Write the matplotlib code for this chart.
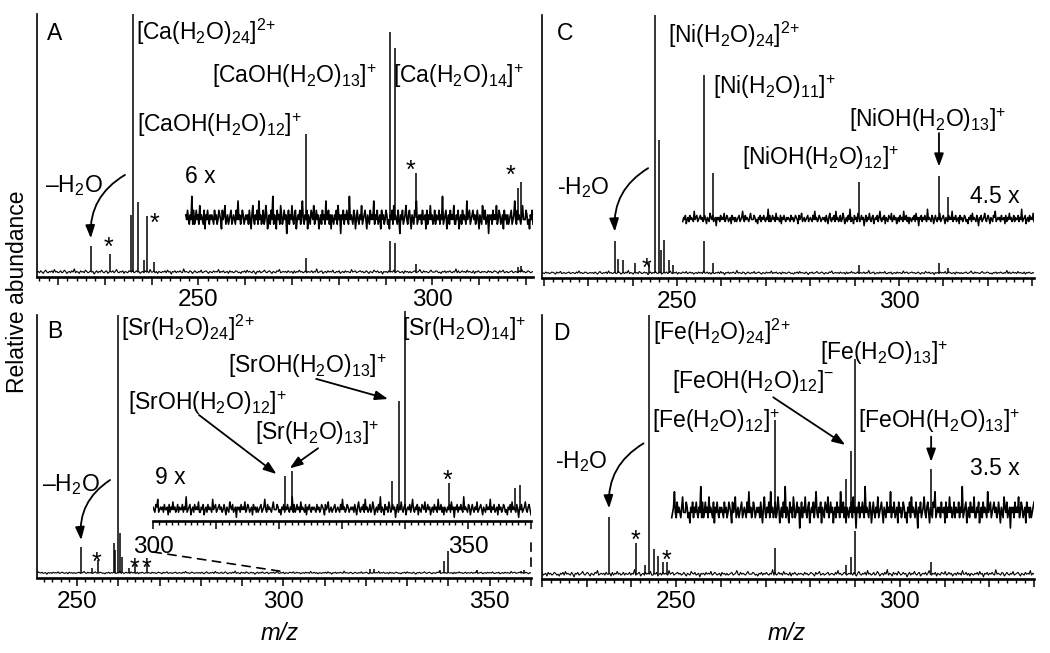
import numpy as np
import matplotlib.pyplot as plt
from matplotlib.patches import ConnectionPatch
from matplotlib.ticker import MultipleLocator, FuncFormatter

plt.rcParams['font.family'] = ['Liberation Sans', 'DejaVu Sans']
plt.rcParams['mathtext.fontset'] = 'custom'
plt.rcParams['mathtext.rm'] = 'Liberation Sans'
plt.rcParams['mathtext.it'] = 'Liberation Sans:italic'
plt.rcParams['mathtext.bf'] = 'Liberation Sans:bold'

# Peak lists: m/z and relative abundance (tallest peak = 100)
ca_mz = [227, 231, 235.6, 236, 237, 238.3, 239, 240.5, 273, 291, 292, 296.5, 318.4, 318.9]
ca_ab = [9.9, 7.0, 22, 100, 27, 4.5, 21.5, 3.9, 5.4, 12, 11, 2.9, 1.9, 2.3]

sr_mz = [251, 253.6, 255, 258.9, 259.3, 260, 260.4, 261, 262.5, 264, 267,
         321, 322, 338, 339, 340, 347, 357.5, 358.3]
sr_ab = [10, 2, 5, 11.6, 9, 100, 15.5, 6, 2, 3.5, 3.5,
         1.4, 1.6, 1.2, 4.65, 8.5, 1.1, 0.9, 1.0]

ni_mz = [236, 236.8, 237.8, 240.5, 243.8, 245, 246, 246.4, 247.1, 248.3, 249,
         256, 258, 291, 309, 311]
ni_ab = [12.2, 5.4, 5.0, 3.9, 4, 100, 51.4, 9, 12.6, 5, 3,
         12.4, 3.9, 3.2, 3.7, 1.9]

fe_mz = [235, 241, 243, 244, 245, 246, 247, 248, 272, 288, 289, 290, 307]
fe_ab = [22, 12.1, 3.5, 100, 9.7, 7, 4.6, 4.6, 10, 3.5, 6.6, 16.7, 4.6]

# baseline noise, as digits 0-9
noise = [
    4, 5, 3, 6, 4, 2, 5, 7, 4, 3, 5, 4, 6, 3, 8, 4, 5, 3, 4, 6,
    3, 4, 7, 5, 2, 4, 5, 3, 6, 4, 9, 3, 5, 4, 2, 6, 4, 5, 3, 7,
    5, 3, 4, 6, 4, 5, 1, 4, 6, 3, 5, 4, 7, 4, 3, 5, 6, 2, 4, 5,
    4, 6, 3, 5, 8, 4, 3, 5, 4, 6, 2, 5, 4, 3, 6, 5, 4, 7, 3, 4,
    6, 4, 5, 2, 4, 5, 3, 6, 4, 5, 3, 8, 4, 4, 6, 3, 5, 2, 5, 4,
    3, 5, 4, 6, 3, 7, 4, 5, 1, 5, 4, 6, 3, 5, 4, 6, 4, 3, 9, 4,
    5, 4, 3, 6, 5, 2, 4, 6, 4, 3, 5, 4, 7, 3, 4, 5, 6, 4, 2, 5,
    4, 3, 6, 4, 5, 4, 8, 3, 5, 4, 6, 3, 4, 5, 2, 6, 4, 5, 3, 4,
    6, 5, 3, 4, 2, 5, 4, 6, 3, 7, 4, 5, 4, 3, 6, 4, 1, 5, 4, 6,
    3, 4, 5, 7, 4, 3, 5, 6, 4, 2, 5, 4, 3, 6, 5, 8, 3, 4, 5, 4,
    5, 3, 6, 4, 4, 5, 2, 6, 3, 5, 4, 7, 4, 5, 3, 4, 6, 3, 5, 4,
    4, 6, 3, 5, 4, 9, 3, 4, 5, 6, 2, 4, 5, 3, 6, 4, 5, 4, 7, 3,
    3, 5, 4, 6, 2, 4, 5, 3, 6, 4, 5, 4, 3, 8, 4, 5, 6, 3, 4, 5,
    6, 4, 5, 3, 4, 6, 4, 2, 5, 4, 3, 7, 5, 4, 6, 3, 4, 5, 1, 5,
    4, 5, 3, 6, 4, 5, 4, 7, 3, 4, 6, 5, 3, 4, 5, 2, 6, 4, 5, 3,
    5, 3, 4, 5, 6, 3, 4, 5, 8, 4, 3, 6, 4, 5, 4, 3, 5, 7, 4, 4,
    4, 6, 5, 3, 4, 2, 5, 4, 6, 3, 5, 4, 6, 4, 3, 5, 4, 9, 3, 6,
    3, 4, 6, 4, 5, 3, 7, 4, 5, 4, 3, 6, 2, 5, 4, 6, 4, 3, 5, 4,
    5, 4, 3, 6, 4, 5, 3, 4, 6, 5, 4, 2, 6, 4, 5, 7, 3, 4, 5, 3,
    4, 5, 6, 3, 4, 5, 4, 3, 6, 4, 8, 4, 5, 3, 4, 6, 5, 3, 4, 5,
]

W, H = 1050, 653
fig = plt.figure(figsize=(W / 100, H / 100), dpi=100)


def box(x0, x1, y_top, y_axis):
    return [x0 / W, 1 - y_axis / H, (x1 - x0) / W, (y_axis - y_top) / H]


def spectrum(ax, lo, hi, mz, ab, amp, shift, base=0.0, gain=1.0, lw=0.8):
    n = np.roll(np.array(noise, float), shift)
    x = np.linspace(lo, hi, len(n))
    ax.plot(x, base + amp * (n - 4.4), color='k', lw=lw)
    mz = np.asarray(mz)
    ab = np.asarray(ab)
    keep = (mz >= lo) & (mz <= hi)
    ax.vlines(mz[keep], base, base + gain * ab[keep], color='k', lw=1.1)


def style_axis(ax, xlim, ylim, minor=2, left=True):
    ax.set_xlim(*xlim)
    ax.set_ylim(*ylim)
    ax.set_yticks([])
    ax.xaxis.set_major_locator(MultipleLocator(10))
    ax.xaxis.set_minor_locator(MultipleLocator(minor))
    ax.xaxis.set_major_formatter(FuncFormatter(lambda v, p: '%d' % v if v % 50 == 0 else ''))
    ax.tick_params(axis='x', which='major', direction='out', length=6, width=1.1,
                   labelsize=17.5, pad=3)
    ax.tick_params(axis='x', which='minor', direction='out', length=3, width=1.0)
    ax.spines['top'].set_visible(False)
    ax.spines['right'].set_visible(False)
    ax.spines['left'].set_visible(left)
    ax.spines['left'].set_linewidth(1.2)
    ax.spines['bottom'].set_linewidth(1.9)
    ax.patch.set_visible(False)


ax_a = fig.add_axes(box(37, 533, 14, 277))
ax_c = fig.add_axes(box(542, 1034, 15, 278))
ax_b = fig.add_axes(box(37, 531, 315, 578))
ax_d = fig.add_axes(box(542, 1034, 315, 579))
ax_bi = fig.add_axes(box(153, 531, 310, 521))

style_axis(ax_a, (215.5, 321.5), (-2, 100))
style_axis(ax_c, (219.6, 330.4), (-2, 100))
style_axis(ax_b, (240.3, 360), (-2, 100))
style_axis(ax_d, (220, 330), (-2, 100))
style_axis(ax_bi, (300, 360), (-4.8, 77), minor=1, left=False)
ax_bi.tick_params(axis='x', which='major', pad=5)

# main traces and magnified traces
spectrum(ax_a, 215.5, 321.5, ca_mz, ca_ab, 0.25, 0)
spectrum(ax_a, 247.3, 321.5, ca_mz, ca_ab, 1.8, 70, base=21, gain=6, lw=1.2)

spectrum(ax_b, 240.3, 360, sr_mz, sr_ab, 0.15, 130)
spectrum(ax_bi, 300, 360, sr_mz, sr_ab, 1.0, 210, base=0, gain=9, lw=1.1)

spectrum(ax_c, 219.6, 330.4, ni_mz, ni_ab, 0.2, 40)
spectrum(ax_c, 251.3, 330.4, ni_mz, ni_ab, 0.8, 160, base=21, gain=4.5, lw=1.1)

spectrum(ax_d, 220, 330, fe_mz, fe_ab, 0.35, 250)
spectrum(ax_d, 249, 330, fe_mz, fe_ab, 2.0, 95, base=24.5, gain=3.5, lw=1.2)

# dashed zoom guides in panel B
for xa, ya, yb in [(300, -16.8, 0.45), (360, -13.3, 0.7)]:
    con = ConnectionPatch(xyA=(xa, ya), coordsA=ax_bi.transData,
                          xyB=(xa, yb), coordsB=ax_b.transData,
                          ls=(0, (5, 4)), lw=1.2, color='k')
    fig.add_artist(con)


def arrow(ax, tip, start, rad=0.0):
    ax.annotate('', xy=tip, xytext=start, annotation_clip=False,
                arrowprops=dict(arrowstyle='-|>,head_length=0.55,head_width=0.2',
                                connectionstyle='arc3,rad=%s' % rad,
                                color='k', lw=1.3, shrinkA=0, shrinkB=0,
                                mutation_scale=14))


arrow(ax_a, (227, 13), (234.3, 37.6), 0.3)
arrow(ax_c, (236, 16), (243.5, 40.6), 0.3)
arrow(ax_b, (251, 12.7), (258.0, 36.0), 0.3)
arrow(ax_d, (235, 25.3), (242.7, 50.4), 0.3)
arrow(ax_c, (309, 41.2), (309, 54.2))
arrow(ax_d, (307, 43.3), (307, 53.0))
arrow(ax_d, (287.8, 49.8), (271.7, 68.2))
arrow(ax_bi, (337.3, 42.5), (325.9, 50.3))
arrow(ax_bi, (319.6, 13.4), (307.3, 36.3))
arrow(ax_bi, (321.7, 15.6), (326.2, 23.4))


def label(x, y, s, size=16.5):
    fig.text(x / W, 1 - y / H, s, fontsize=size, ha='left', va='baseline')


texts = [
    ('A', 47, 40), (r'[Ca(H$_2$O)$_{24}$]$^{2\!+}$', 136, 39.5),
    ('[CaOH(H$_2$O)$_{13}$]$^{+}$', 212, 83.3), ('[Ca(H$_2$O)$_{14}$]$^{+}$', 392.7, 83.3),
    ('[CaOH(H$_2$O)$_{12}$]$^{+}$', 136.7, 131.7), ('6 x', 185, 183.3),
    ('–H$_2$O', 45, 192),
    ('C', 556.7, 40), (r'[Ni(H$_2$O)$_{24}$]$^{2\!+}$', 668.3, 43.3),
    ('[Ni(H$_2$O)$_{11}$]$^{+}$', 713.3, 94), ('[NiOH(H$_2$O)$_{13}$]$^{+}$', 849, 126.7),
    ('[NiOH(H$_2$O)$_{12}$]$^{+}$', 742.3, 165.5), ('4.5 x', 970, 203.3),
    ('-H$_2$O', 556.7, 194),
    ('B', 46.7, 338.3), (r'[Sr(H$_2$O)$_{24}$]$^{2\!+}$', 120.7, 336),
    ('[Sr(H$_2$O)$_{14}$]$^{+}$', 401.7, 336), ('[SrOH(H$_2$O)$_{13}$]$^{+}$', 228.3, 373.3),
    ('[SrOH(H$_2$O)$_{12}$]$^{+}$', 128.3, 410), ('[Sr(H$_2$O)$_{13}$]$^{+}$', 255, 440),
    ('9 x', 155, 484), ('–H$_2$O', 41.7, 491),
    ('D', 553.3, 340), (r'[Fe(H$_2$O)$_{24}$]$^{2\!+}$', 653.3, 340),
    ('[Fe(H$_2$O)$_{13}$]$^{+}$', 820, 360), ('[FeOH(H$_2$O)$_{12}$]$^{-}$', 671.7, 388.3),
    ('[Fe(H$_2$O)$_{12}$]$^{+}$', 651.7, 428.3), ('[FeOH(H$_2$O)$_{13}$]$^{+}$', 858.3, 428.3),
    ('3.5 x', 970, 475), ('-H$_2$O', 555, 468.3),
]
for s, x, y in texts:
    label(x, y, s)

stars = [(108, 242), (154, 218), (410.7, 165), (510, 170),
         (96.7, 556.7), (134, 563.3), (146, 563.3), (447.7, 475),
         (646.7, 263.3), (635, 535), (666.7, 555)]
for x, y in stars:
    fig.text(x / W, 1 - (y + 13) / H, '*', fontsize=18, ha='center', va='baseline')

fig.text(18 / W, 1 - 292 / H, 'Relative abundance', rotation=90, fontsize=16.5,
         ha='center', va='center')
fig.text(280 / W, 1 - 633 / H, 'm/z', fontsize=17, style='italic', ha='center', va='center')
fig.text(787 / W, 1 - 633 / H, 'm/z', fontsize=17, style='italic', ha='center', va='center')

fig.savefig('out.png', dpi=100)
